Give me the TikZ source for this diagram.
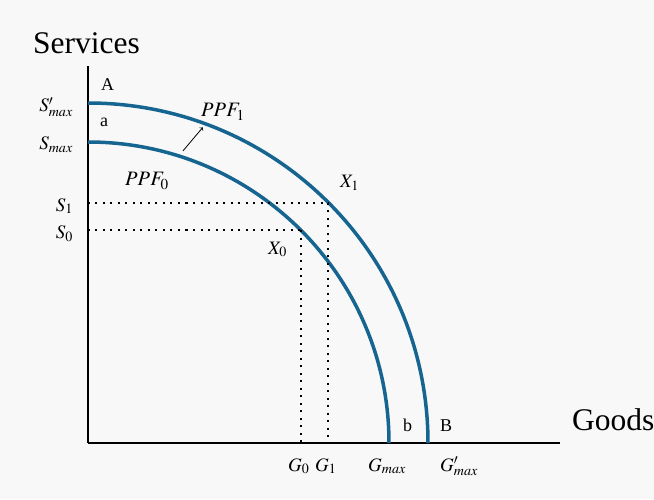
\documentclass[tikz,border=0pt]{standalone}
\usepackage{mathptmx}
\usepackage{fontspec}
\setmainfont{Liberation Serif}
\usetikzlibrary{positioning}

\definecolor{ppfblue}{RGB}{22,101,145}
\definecolor{bggray}{RGB}{248,248,248}

\tikzstyle{end} = [circle, fill, minimum size = 0mm, inner sep = 0pt]
\tikzstyle{axis} = [draw, line width = 1.8pt]
\tikzstyle{ppf} = [draw = ppfblue, line width = 3.5pt]
\tikzstyle{guide} = [draw, line width = 2pt, dash pattern = on 2pt off 5.5pt]
\tikzstyle{title} = [inner sep = 0pt, font = \fontsize{31.5}{31.5}\selectfont]
\tikzstyle{tag} = [inner sep = 0pt, font = \fontsize{19}{19}\selectfont]
\tikzstyle{curvetag} = [inner sep = 0pt, font = \fontsize{20.5}{20.5}\selectfont]
\tikzstyle{letter} = [inner sep = 0pt, font = \fontsize{18}{18}\selectfont]

\begin{document}
\begin{tikzpicture}[x = 1pt, y = 1pt]
        \def\ro{340}
        \def\ri{301}
        \useasboundingbox[fill = bggray] (-88, -56) rectangle (566, 443);

        % axes
        \node[end] (O) at (0, 0) {};
        \node[end] (Ytop) at (0, 377) {};
        \node[end] (Xend) at (472, 0) {};
        \path[axis] (Ytop) -- (O) -- (Xend);
        \node[title, anchor = base west] (services) at (-55, 389) {Services};
        \node[title, anchor = base west] (goods) at (484, 13) {Goods};

        % frontiers
        \node[end] (A) at (0, \ro) {};
        \node[end] (B) at (\ro, 0) {};
        \node[end] (a) at (0, \ri) {};
        \node[end] (b) at (\ri, 0) {};
        \path[ppf] (A) arc[start angle = 90, end angle = 0, radius = \ro];
        \path[ppf] (a) arc[start angle = 90, end angle = 0, radius = \ri];
        \node[end, fill = none] (shiftfrom) at (72:307) {};
        \node[end, fill = none] (shiftto) at (70:336) {};
        \draw[->, line width = 0.8pt] (shiftfrom) -- (shiftto);

        % chosen points
        \node[end, fill = none] (X1) at (45:\ro) {};
        \node[end, fill = none] (X0) at (45:\ri) {};
        \path[guide] (O |- X1) -- (X1) -- (X1 |- O);
        \path[guide] (O |- X0) -- (X0) -- (X0 |- O);

        % labels
        \node[letter, anchor = base west] (Atext) at (13, 352) {A};
        \node[letter, anchor = base west] (atext) at (12, 316) {a};
        \node[letter, anchor = base west] (btext) at (315, 12) {b};
        \node[letter, anchor = base west] (Btext) at (352, 12) {B};
        \node[curvetag, anchor = base west] (ppf1) at (113, 326) {$PPF_1$};
        \node[curvetag, anchor = base west] (ppf0) at (37, 257) {$PPF_0$};
        \node[tag, anchor = base west] (x1) at (252, 255) {$X_1$};
        \node[tag, anchor = base west] (x0) at (180, 189) {$X_0$};

        \node[tag, anchor = base east] (smaxp) at (-15, 331) {$S'_{max}$};
        \node[tag, anchor = base east] (smax) at (-15, 293) {$S_{max}$};
        \node[tag, anchor = base east] (s1) at (-15, 232) {$S_1$};
        \node[tag, anchor = base east] (s0) at (-15, 204.5) {$S_0$};

        \node[tag, anchor = base west] (g0) at (200, -28) {$G_0$};
        \node[tag, anchor = base west] (g1) at (227, -28) {$G_1$};
        \node[tag, anchor = base west] (gmax) at (280, -28) {$G_{max}$};
        \node[tag, anchor = base west] (gmaxp) at (352, -28) {$G'_{max}$};
\end{tikzpicture}
\end{document}
